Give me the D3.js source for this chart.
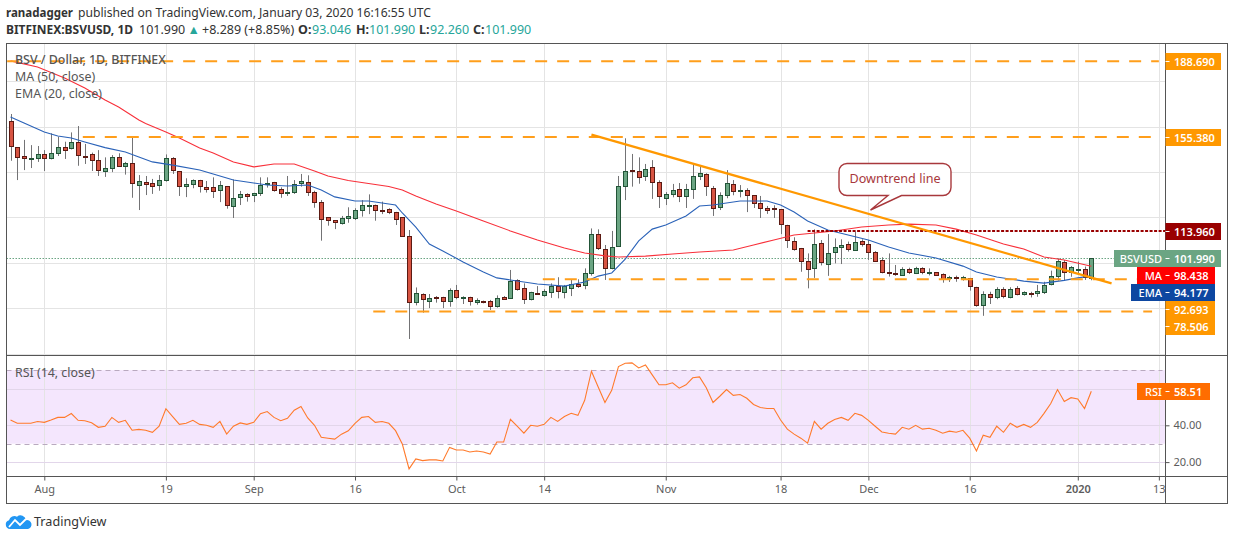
<!DOCTYPE html>
<html>
<head>
<meta charset="utf-8">
<script src="https://cdn.jsdelivr.net/npm/d3@7"></script>
<style>
  html, body { margin: 0; padding: 0; background: #fff; }
  svg { display: block; font-family: "Noto Sans", sans-serif; }
  .axis path { display: none; }
  .axis line { stroke: #555; }
  .axis text { fill: #5c5c5c; font-size: 11px; font-family: "Noto Sans", sans-serif; }
</style>
</head>
<body>
<div id="chart"></div>
<script>
// daily candles, first bar is 27 Jul 2019
const firstDay = new Date(Date.UTC(2019, 6, 27));

const opens = [162.3,150.8,147.0,145.4,145.8,147.7,145.8,148.2,151.0,150.2,153.0,147.0,147.7,145.1,140.1,141.4,146.4,142.3,143.8,133.9,
  135.6,135.0,133.9,136.2,146.0,140.3,133.9,134.4,136.3,133.2,133.2,131.7,133.6,124.7,128.6,130.3,129.5,130.4,134.4,135.4,
  132.3,130.4,131.0,135.0,135.4,131.0,126.9,120.0,118.7,117.2,119.5,119.4,123.1,125.1,125.3,123.2,123.7,122.2,120.0,111.6,
  82.5,86.1,83.3,84.7,84.7,83.0,87.8,84.5,84.7,82.7,83.0,83.0,80.6,84.7,84.3,92.2,88.7,83.7,86.6,85.9,
  87.2,89.7,87.2,89.0,90.6,90.0,95.2,112.5,105.9,97.4,107.1,133.5,140.7,140.3,137.9,142.0,135.4,128.6,130.0,132.3,
  129.1,132.2,138.2,138.9,132.8,124.2,129.5,134.5,131.7,131.9,129.7,126.2,124.1,124.0,123.5,116.5,109.4,106.3,100.6,97.5,
  108.5,99.4,104.4,106.6,108.1,105.9,109.4,108.1,104.9,101.0,95.8,95.3,94.7,97.4,95.2,97.5,95.2,95.8,94.9,93.0,
  93.6,92.7,93.1,89.2,81.1,86.1,84.7,88.3,84.6,88.7,86.1,86.5,86.4,87.2,90.3,93.8,100.2,95.8,96.9,97.1,
  93.046];
const highs = [165.5,150.8,154.1,151.8,151.4,149.6,157.0,155.5,153.3,157.4,160.2,152.3,148.5,149.6,146.4,147.4,148.2,144.4,155.2,138.6,
  138.2,136.9,138.6,147.7,146.5,140.4,137.2,136.7,136.5,136.0,137.6,136.0,133.8,136.7,131.6,130.6,130.8,137.6,137.6,135.6,
  133.2,138.2,136.4,139.1,138.5,131.7,127.6,120.1,118.8,120.6,124.4,124.0,127.6,130.1,125.6,126.9,124.0,122.4,120.1,114.4,
  89.1,86.5,86.2,85.3,85.0,88.7,90.2,85.2,85.0,84.3,83.3,83.6,85.6,85.3,96.8,92.7,90.9,87.2,89.7,88.3,
  90.9,93.6,90.2,92.7,92.7,97.5,115.1,114.7,107.8,114.0,138.2,154.8,147.9,146.4,143.5,145.2,136.3,131.1,134.7,135.1,
  134.7,143.3,142.6,139.4,133.8,131.0,140.8,136.4,134.2,132.8,129.8,129.4,125.0,125.3,123.6,116.7,111.2,106.5,104.1,114.7,
  110.0,112.6,110.7,110.3,109.3,113.7,110.3,110.0,105.1,102.4,104.1,99.0,98.0,97.8,98.2,98.0,97.5,95.9,95.3,94.2,
  94.3,94.2,93.3,89.4,87.4,87.2,89.2,89.2,89.2,89.7,87.4,87.2,90.2,91.6,96.5,101.9,101.2,98.5,100.5,98.3,
  101.99];
const lows = [144.9,136.4,140.8,141.7,144.4,140.4,145.5,147.0,145.7,149.9,142.7,143.5,140.4,138.2,137.8,139.9,142.3,138.8,128.6,123.2,
  129.8,130.3,131.7,135.7,139.1,129.4,128.9,132.8,130.9,130.9,128.5,126.7,123.8,119.7,125.4,126.9,126.7,129.4,133.1,131.3,
  128.6,129.4,130.3,133.5,129.4,124.2,109.7,116.3,114.8,116.8,117.6,118.8,120.3,121.4,118.5,121.4,121.4,116.6,111.5,66.4,
  81.2,78.0,80.0,82.4,80.0,80.6,83.9,81.8,81.1,81.5,82.1,79.2,80.2,83.6,84.0,87.7,81.8,83.4,85.9,85.0,
  84.5,84.3,84.3,85.3,88.9,88.3,94.3,105.6,92.4,97.1,107.0,127.6,133.5,134.8,136.0,128.1,124.1,125.4,128.8,126.7,
  124.1,128.1,136.4,129.4,120.6,123.2,128.4,129.7,128.8,122.3,124.1,119.7,121.5,119.7,112.6,106.5,105.3,96.0,88.7,93.3,
  98.8,94.2,99.7,99.4,104.9,105.6,107.1,101.2,100.4,95.3,93.9,94.2,94.2,95.0,95.0,94.9,94.4,94.2,91.2,91.5,
  91.6,92.1,87.7,80.6,76.6,81.8,83.9,84.3,84.3,85.6,85.5,84.7,85.0,86.2,90.0,92.1,92.1,93.8,95.3,92.4,
  92.26];
const closes = [151.1,146.4,146.3,146.0,147.7,145.8,148.2,150.8,149.8,153.0,147.2,146.7,144.9,140.5,141.6,146.4,142.4,143.8,135.0,135.8,
  134.8,133.5,136.3,146.0,140.5,133.9,134.7,136.3,133.5,132.5,131.3,134.1,125.1,128.4,130.1,129.5,130.6,134.1,135.0,131.7,
  130.4,131.0,134.5,135.8,131.0,126.6,119.5,118.5,117.6,119.5,120.4,123.1,125.3,125.4,123.1,122.9,122.5,119.1,111.6,82.5,
  86.5,83.7,84.5,84.2,82.8,87.8,84.6,84.9,82.8,83.4,82.4,80.6,84.3,84.0,91.8,88.1,83.7,87.0,86.4,87.5,
  89.7,87.7,89.7,90.6,89.9,95.3,112.5,106.2,97.4,106.8,133.6,140.3,140.1,137.5,141.1,135.3,129.1,130.3,131.9,129.1,
  132.3,138.0,139.5,133.5,124.2,129.7,135.0,131.3,132.0,129.5,126.0,123.8,123.4,123.4,116.8,109.9,105.9,100.4,97.1,108.1,
  100.0,104.1,106.8,107.6,105.7,109.3,108.0,104.6,101.0,95.6,95.5,94.7,97.4,96.2,97.5,95.6,95.8,94.4,92.7,93.6,
  93.1,93.6,89.4,81.1,86.1,84.6,88.3,85.0,88.3,85.9,87.0,86.1,87.4,90.3,94.0,100.6,95.8,98.0,97.2,93.4,
  101.99];

// moving averages at these bars
const maBars = [0,4,8,11,14,16,19,20,23,25,28,30,33,36,39,42,45,47,50,53,56,58,60,63,66,70,74,78,82,85,88,90,94,98,102,107,110,113,116,119,122,126,130,133,137,140,143,147,150,153,156,160];
const maValues = [188.9,186.2,181.4,177.0,171.7,168.6,162.9,161.3,157.6,154.9,150.5,148.3,144.4,142.2,143.5,143.5,140.4,138.2,136.2,134.9,133.6,132.0,129.4,125.9,122.8,118.4,114.0,110.0,106.5,104.3,103.0,102.5,102.9,103.8,104.7,105.6,107.8,110.0,112.2,113.1,114.0,115.7,116.6,117.0,116.6,114.8,112.2,108.2,106.0,102.5,101.2,98.438];
const emaBars = [0,2,5,7,9,11,14,17,19,21,24,28,30,33,36,38,41,44,46,48,51,53,57,58,60,62,64,67,70,72,74,78,82,85,87,89,91,93,95,97,100,102,104,108,112,114,116,118,121,124,127,130,133,137,141,143,146,150,153,156,158,160];
const emaValues = [164.2,161.5,157.6,155.8,154.9,153.2,150.7,148.8,146.6,144.4,143.0,140.8,139.1,136.4,135.1,134.2,133.8,134.2,132.0,129.0,127.2,127.2,125.4,121.9,115.7,108.2,105.2,100.3,95.9,93.3,92.4,90.6,89.7,91.5,94.1,95.5,101.6,109.6,114.8,116.6,120.6,125.0,125.4,127.2,127.2,125.4,122.3,118.4,114.4,112.2,110.0,106.9,104.3,102.1,98.5,95.9,93.7,91.9,91.0,92.2,93.3,94.177];

const rsiValues = [42.9,41.1,41.1,41.1,42.1,41.6,42.9,44.3,44.3,46.4,42.7,42.5,41.4,38.9,39.5,44.3,41.6,42.7,37.3,37.8,
  37.3,36.2,39.5,49.0,44.7,40.5,41.1,42.7,40.5,40.0,38.9,42.1,35.2,39.5,41.3,40.5,41.6,46.3,47.5,44.3,
  42.5,43.8,48.2,50.2,44.0,40.0,33.5,33.0,32.5,35.2,37.0,41.1,44.3,44.8,41.6,42.1,41.1,37.1,29.8,16.3,
  21.7,20.8,21.2,21.2,20.6,28.0,26.6,26.6,25.5,26.0,25.5,24.4,30.9,30.9,43.2,39.5,35.7,40.0,39.5,40.5,
  44.3,42.1,44.8,46.5,45.4,53.6,69.4,60.8,52.4,59.0,71.9,73.7,73.9,71.2,72.8,67.4,62.0,62.0,63.1,60.2,
  62.0,65.8,66.3,60.4,52.4,55.8,59.4,56.3,56.7,54.7,51.3,49.7,49.1,49.1,42.9,37.9,35.2,33.0,30.3,42.1,
  37.9,41.1,43.2,44.3,42.7,46.5,45.4,42.7,39.5,36.4,35.7,35.2,38.9,37.9,40.0,37.9,38.4,37.3,35.7,36.8,
  36.2,37.3,33.0,26.0,34.6,33.5,39.5,36.2,41.1,38.9,40.5,38.9,41.6,46.5,51.8,59.4,52.9,55.0,54.3,49.1,
  58.51];

const priceTicks = [180, 160, 140, 120, 100, 80, 60];
const priceAxisTicks = [180, 160, 140, 120, 60]; // 100 and 80 sit under the price tags
const rsiTicks = [60, 40, 20];
const rsiAxisTicks = [40, 20];
const timeTickDates = ["2019-08-01","2019-08-19","2019-09-01","2019-09-16","2019-10-01","2019-10-14","2019-11-01","2019-11-18","2019-12-01","2019-12-16","2020-01-01","2020-01-13"];
const timeTickLabels = ["Aug","19","Sep","16","Oct","14","Nov","18","Dec","16","2020","13"];

// horizontal levels drawn by the author: value, first bar, last bar
const levelValues = [188.69, 155.38, 92.693, 78.506];
const levelStartBars = [-0.5, 10.7, 78.8, 53.7];
const levelEndBars = [170, 170, 168, 169];
const resistanceLevel = 113.96;
const resistanceStartBar = 118;
const trendBars = [86, 163];
const trendValues = [156.4, 90.9];

const width = 1234, height = 540;
const plotLeft = 6.5, plotRight = 1165.5, priceTop = 43.5, priceBottom = 355.5, rsiBottom = 476.5, frameBottom = 503.5, frameRight = 1227.5;

const xTime = d3.scaleUtc()
  .domain([new Date(Date.UTC(2019, 7, 1)), new Date(Date.UTC(2020, 0, 3))])
  .range([44.3, 1091.3]);
const xBar = i => xTime(d3.utcDay.offset(firstDay, Math.floor(i))) + (i - Math.floor(i)) * 6.755;
const crisp = v => Math.round(v) + 0.5;

const y = d3.scaleLinear().domain([120, 140]).range([217.3, 171.9]);
const yRsi = d3.scaleLinear().domain([40, 60]).range([425.3, 388.5]);

const svg = d3.select("#chart").append("svg").attr("width", width).attr("height", height);

// header
const headTeal = "#26a69a";
svg.append("text").attr("x", 6).attr("y", 17).attr("font-size", 12.2).attr("font-weight", "bold").attr("fill", "#333")
  .attr("textLength", 67).attr("lengthAdjust", "spacingAndGlyphs").text("ranadagger");
svg.append("text").attr("x", 78).attr("y", 17).attr("font-size", 12.15).attr("fill", "#333")
  .text("published on TradingView.com, January 03, 2020 16:16:55 UTC");
const head2 = svg.append("g").attr("font-size", 12.5).attr("fill", "#333");
const headPart = (x, txt, bold, teal) => head2.append("text").attr("x", x).attr("y", 34)
  .attr("font-weight", bold ? "bold" : "normal").attr("fill", teal ? headTeal : "#333").text(txt);
headPart(6, "BITFINEX:BSVUSD, 1D", true).attr("textLength", 127).attr("lengthAdjust", "spacingAndGlyphs");
headPart(139, "101.990");
headPart(187.5, "▲", false, true);
headPart(202, "+8.289 (+8.85%)");
headPart(298, "O:", true);
headPart(312, "93.046", false, true);
headPart(356, "H:", true);
headPart(369, "101.990", false, true);
headPart(419, "L:", true);
headPart(430, "92.260", false, true);
headPart(473, "C:", true);
headPart(485, "101.990", false, true);

const defs = svg.append("defs");
defs.append("clipPath").attr("id", "pricePane").append("rect")
  .attr("x", plotLeft).attr("y", priceTop).attr("width", plotRight - plotLeft).attr("height", priceBottom - priceTop);
defs.append("clipPath").attr("id", "rsiPane").append("rect")
  .attr("x", plotLeft).attr("y", priceBottom).attr("width", plotRight - plotLeft).attr("height", rsiBottom - priceBottom);
defs.append("clipPath").attr("id", "priceAxisClip").append("rect")
  .attr("x", plotRight).attr("y", priceTop).attr("width", 60).attr("height", priceBottom - priceTop);

const timeDates = timeTickDates.map(d => new Date(d + "T00:00:00Z"));

// RSI band goes under the grid
svg.append("rect").attr("x", plotLeft).attr("y", yRsi(70)).attr("width", plotRight - plotLeft)
  .attr("height", yRsi(30) - yRsi(70)).attr("fill", "#f4e6fd");

// grid
const grid = svg.append("g").attr("stroke", "#e4e4e4").attr("stroke-width", 1);
grid.selectAll("line.v").data(timeDates).enter().append("line").attr("class", "v")
  .attr("x1", d => crisp(xTime(d))).attr("x2", d => crisp(xTime(d)))
  .attr("y1", priceTop).attr("y2", rsiBottom);
grid.selectAll("line.h").data(priceTicks).enter().append("line").attr("class", "h")
  .attr("x1", plotLeft).attr("x2", plotRight)
  .attr("y1", d => crisp(y(d))).attr("y2", d => crisp(y(d)));
grid.selectAll("line.r").data(rsiTicks).enter().append("line").attr("class", "r")
  .attr("x1", plotLeft).attr("x2", plotRight)
  .attr("y1", d => crisp(yRsi(d))).attr("y2", d => crisp(yRsi(d)))
  .attr("stroke", "#e2d6ea");

// RSI
const rsiG = svg.append("g").attr("clip-path", "url(#rsiPane)");
[70, 30].forEach(v => {
  rsiG.append("line").attr("x1", plotLeft).attr("x2", plotRight - 3)
    .attr("y1", crisp(yRsi(v))).attr("y2", crisp(yRsi(v)))
    .attr("stroke", "#b9a9bf").attr("stroke-dasharray", "5,4");
});
rsiG.append("path")
  .attr("d", d3.line().x((d, i) => xBar(i)).y(d => yRsi(d))(rsiValues))
  .attr("fill", "none").attr("stroke", "#ff7a2b").attr("stroke-width", 1.1);

const pane = svg.append("g").attr("clip-path", "url(#pricePane)");

// last price
pane.append("line").attr("x1", plotLeft).attr("x2", plotRight)
  .attr("y1", crisp(y(closes[closes.length - 1]))).attr("y2", crisp(y(closes[closes.length - 1])))
  .attr("stroke", "#6ba583").attr("stroke-dasharray", "1.5,1.5");

// candles
const candles = pane.selectAll("g.candle").data(closes).enter().append("g").attr("class", "candle");
candles.append("line")
  .attr("x1", (d, i) => crisp(xBar(i))).attr("x2", (d, i) => crisp(xBar(i)))
  .attr("y1", (d, i) => y(highs[i])).attr("y2", (d, i) => y(lows[i]))
  .attr("stroke", "#737375");
candles.append("rect")
  .attr("x", (d, i) => crisp(xBar(i)) - 2).attr("width", 4)
  .attr("y", (d, i) => Math.round(y(Math.max(opens[i], d))) + 0.5)
  .attr("height", (d, i) => Math.max(1, Math.round(Math.abs(y(opens[i]) - y(d)))))
  .attr("fill", (d, i) => d >= opens[i] ? "#6ba583" : "#d75442")
  .attr("stroke", (d, i) => d >= opens[i] ? "#225437" : "#5b1a13");

// MA and EMA
const knotLine = (bars, values) => d3.line().x((d, i) => xBar(bars[i])).y(d => y(d))(values);
pane.append("path").attr("d", knotLine(maBars, maValues)).attr("fill", "none").attr("stroke", "#f8303a").attr("stroke-width", 1.1);
pane.append("path").attr("d", knotLine(emaBars, emaValues)).attr("fill", "none").attr("stroke", "#2a62b8").attr("stroke-width", 1.1);

// author drawings
levelValues.forEach((v, i) => {
  pane.append("line")
    .attr("x1", xBar(levelStartBars[i])).attr("x2", xBar(levelEndBars[i]))
    .attr("y1", y(v)).attr("y2", y(v))
    .attr("stroke", "#ff9e1b").attr("stroke-width", 2).attr("stroke-dasharray", "12,10");
});
pane.append("line")
  .attr("x1", xBar(resistanceStartBar)).attr("x2", plotRight)
  .attr("y1", y(resistanceLevel)).attr("y2", y(resistanceLevel))
  .attr("stroke", "#990000").attr("stroke-width", 2).attr("stroke-dasharray", "3,1.5");
pane.append("line")
  .attr("x1", xBar(trendBars[0])).attr("x2", xBar(trendBars[1]))
  .attr("y1", y(trendValues[0])).attr("y2", y(trendValues[1]))
  .attr("stroke", "#ff9800").attr("stroke-width", 2.2);

// callout
pane.append("path")
  .attr("d", "M847,163.5H943a8,8 0 0 1 8,8V187.5a8,8 0 0 1 -8,8H901.5L870.5,210L888,195.5H847a8,8 0 0 1 -8,-8V171.5a8,8 0 0 1 8,-8Z")
  .attr("fill", "#fff").attr("stroke", "#a8383c").attr("stroke-width", 1.4);
pane.append("text").attr("x", 895).attr("y", 183).attr("text-anchor", "middle")
  .attr("font-size", 12.6).attr("fill", "#a8383c").text("Downtrend line");

// pane legends
const legend = svg.append("g").attr("font-size", 12.4).attr("fill", "#555");
legend.append("text").attr("x", 15).attr("y", 64).attr("font-weight", 500).text("BSV / Dollar, 1D, BITFINEX");
legend.append("text").attr("x", 15).attr("y", 81).text("MA (50, close)");
legend.append("text").attr("x", 15).attr("y", 98).text("EMA (20, close)");
legend.append("text").attr("x", 15).attr("y", 377).text("RSI (14, close)");

// frame
const frame = svg.append("g").attr("stroke", "#555").attr("fill", "none");
frame.append("rect").attr("x", plotLeft).attr("y", priceTop).attr("width", frameRight - plotLeft).attr("height", frameBottom - priceTop);
frame.append("line").attr("x1", plotRight).attr("x2", plotRight).attr("y1", priceTop).attr("y2", frameBottom);
frame.append("line").attr("x1", plotLeft).attr("x2", frameRight).attr("y1", priceBottom).attr("y2", priceBottom);
frame.append("line").attr("x1", plotLeft).attr("x2", frameRight).attr("y1", rsiBottom).attr("y2", rsiBottom);

// axes
svg.append("g").attr("class", "axis").attr("clip-path", "url(#priceAxisClip)")
  .attr("transform", `translate(${plotRight},0)`)
  .call(d3.axisRight(y).tickValues(priceAxisTicks).tickSize(4).tickPadding(4).tickFormat(d3.format(".3f")));
svg.append("g").attr("class", "axis")
  .attr("transform", `translate(${plotRight},0)`)
  .call(d3.axisRight(yRsi).tickValues(rsiAxisTicks).tickSize(4).tickPadding(4).tickFormat(d3.format(".2f")));
const timeAxis = svg.append("g").attr("class", "axis")
  .attr("transform", `translate(0,${rsiBottom})`)
  .call(d3.axisBottom(xTime).tickValues(timeDates).tickSize(4).tickPadding(5)
    .tickFormat((d, i) => timeTickLabels[i]));
timeAxis.selectAll("text").filter((d, i) => timeTickLabels[i] === "2020").attr("font-weight", 600);

// price tags on the scale
const fmt3 = d3.format(".3f");
function priceTag(top, h, right, color, value, name, nameLeft) {
  const left = name ? nameLeft : plotRight;
  const g = svg.append("g");
  g.append("rect").attr("x", left).attr("y", top).attr("width", right - left).attr("height", h).attr("fill", color);
  g.append("line").attr("x1", plotRight).attr("x2", plotRight + 4).attr("y1", top + h / 2).attr("y2", top + h / 2).attr("stroke", "#fff");
  g.append("text").attr("x", plotRight + 8.5).attr("y", top + h / 2 + 4).attr("fill", "#fff")
    .attr("font-size", 11).attr("font-weight", 600).text(value);
  if (name) {
    g.append("text").attr("x", plotRight - 3.5).attr("y", top + h / 2 + 4).attr("text-anchor", "end").attr("fill", "#fff")
      .attr("font-size", 11).attr("font-weight", 500).text(name);
  }
}
priceTag(53, 17, 1221, "#ff9800", fmt3(levelValues[0]));
priceTag(129, 17, 1221, "#ff9800", fmt3(levelValues[1]));
priceTag(223, 17, 1221, "#990000", fmt3(resistanceLevel));
priceTag(250, 17, 1221, "#6ba583", fmt3(closes[closes.length - 1]), "BSVUSD", 1114);
priceTag(267, 17, 1215, "#ff0000", fmt3(maValues[maValues.length - 1]), "MA", 1137);
priceTag(284, 17, 1215, "#0d47a1", fmt3(emaValues[emaValues.length - 1]), "EMA", 1131);
priceTag(301, 17, 1215, "#ff9800", fmt3(levelValues[2]));
priceTag(318, 17, 1215, "#ff9800", fmt3(levelValues[3]));
priceTag(383, 17, 1210, "#ff6d00", d3.format(".2f")(rsiValues[rsiValues.length - 1]), "RSI", 1137);

// TradingView mark
const logo = svg.append("g");
logo.append("path")
  .attr("d", "M10,529a4.5,4.5 0 0 1 -1,-8.8a5.5,5.5 0 0 1 8,-3.5a5.5,5.5 0 0 1 9,3.5a4.5,4.5 0 0 1 2,8.8Z")
  .attr("fill", "#2196f3");
logo.append("path").attr("d", "M9,527L15,520L20,525L26,519").attr("fill", "none").attr("stroke", "#fff").attr("stroke-width", 1.8);
svg.append("text").attr("x", 34).attr("y", 526).attr("font-size", 12.6).attr("fill", "#333").text("TradingView");
</script>
</body>
</html>
